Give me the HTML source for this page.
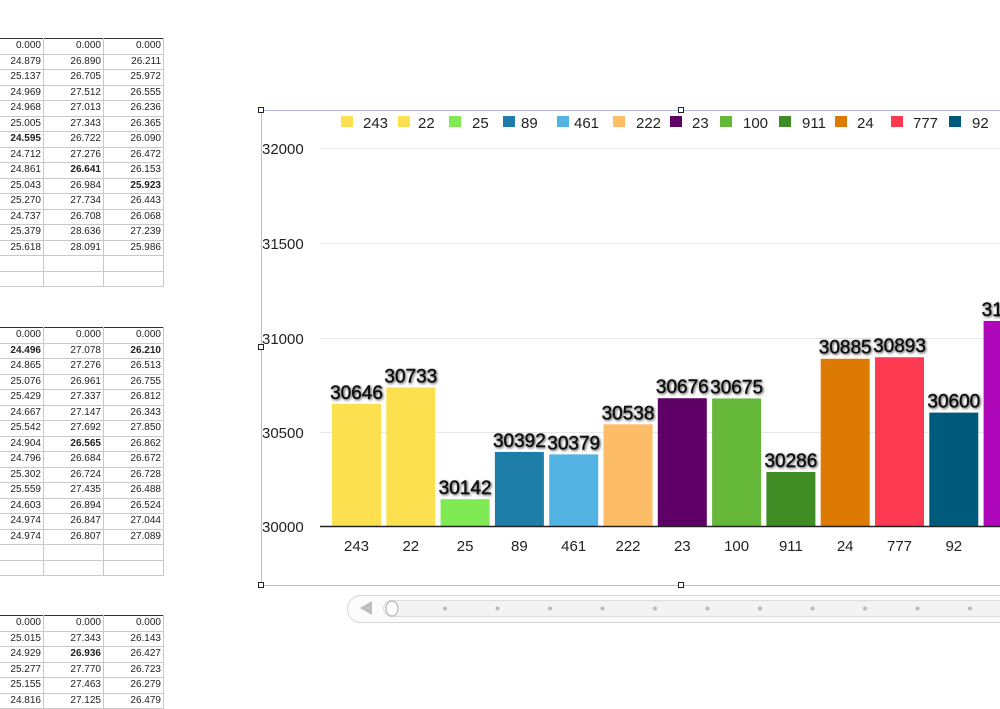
<!DOCTYPE html>
<html><head><meta charset="utf-8"><style>
body{margin:0;width:1000px;height:705px;overflow:hidden;background:#fff;font-family:"Liberation Sans",sans-serif;position:relative}
table{position:absolute;left:-2px;border-collapse:collapse;font-size:10px;color:#222;table-layout:fixed;width:165px}
td{height:15.5px;padding:0 2px;border:1px solid #c8c8c8;text-align:right;line-height:14px;overflow:hidden;box-sizing:border-box}
tr.t td{border-top:1px solid #333}
tr.b td{border-top:1px solid #333}
table{border-bottom:1px solid #333;border-right:1px solid #333}
</style></head><body>
<table style="top:38px"><colgroup><col style="width:45px"><col style="width:60px"><col style="width:60px"></colgroup>
<tr class="t"><td>0.000</td><td>0.000</td><td>0.000</td></tr>
<tr><td>24.879</td><td>26.890</td><td>26.211</td></tr>
<tr><td>25.137</td><td>26.705</td><td>25.972</td></tr>
<tr><td>24.969</td><td>27.512</td><td>26.555</td></tr>
<tr><td>24.968</td><td>27.013</td><td>26.236</td></tr>
<tr><td>25.005</td><td>27.343</td><td>26.365</td></tr>
<tr><td><b>24.595</b></td><td>26.722</td><td>26.090</td></tr>
<tr><td>24.712</td><td>27.276</td><td>26.472</td></tr>
<tr><td>24.861</td><td><b>26.641</b></td><td>26.153</td></tr>
<tr><td>25.043</td><td>26.984</td><td><b>25.923</b></td></tr>
<tr><td>25.270</td><td>27.734</td><td>26.443</td></tr>
<tr><td>24.737</td><td>26.708</td><td>26.068</td></tr>
<tr><td>25.379</td><td>28.636</td><td>27.239</td></tr>
<tr><td>25.618</td><td>28.091</td><td>25.986</td></tr>
<tr class="b"><td></td><td></td><td></td></tr>
<tr><td></td><td></td><td></td></tr>
</table>
<table style="top:327px"><colgroup><col style="width:45px"><col style="width:60px"><col style="width:60px"></colgroup>
<tr class="t"><td>0.000</td><td>0.000</td><td>0.000</td></tr>
<tr><td><b>24.496</b></td><td>27.078</td><td><b>26.210</b></td></tr>
<tr><td>24.865</td><td>27.276</td><td>26.513</td></tr>
<tr><td>25.076</td><td>26.961</td><td>26.755</td></tr>
<tr><td>25.429</td><td>27.337</td><td>26.812</td></tr>
<tr><td>24.667</td><td>27.147</td><td>26.343</td></tr>
<tr><td>25.542</td><td>27.692</td><td>27.850</td></tr>
<tr><td>24.904</td><td><b>26.565</b></td><td>26.862</td></tr>
<tr><td>24.796</td><td>26.684</td><td>26.672</td></tr>
<tr><td>25.302</td><td>26.724</td><td>26.728</td></tr>
<tr><td>25.559</td><td>27.435</td><td>26.488</td></tr>
<tr><td>24.603</td><td>26.894</td><td>26.524</td></tr>
<tr><td>24.974</td><td>26.847</td><td>27.044</td></tr>
<tr><td>24.974</td><td>26.807</td><td>27.089</td></tr>
<tr class="b"><td></td><td></td><td></td></tr>
<tr><td></td><td></td><td></td></tr>
</table>
<table style="top:615px"><colgroup><col style="width:45px"><col style="width:60px"><col style="width:60px"></colgroup>
<tr class="t"><td>0.000</td><td>0.000</td><td>0.000</td></tr>
<tr><td>25.015</td><td>27.343</td><td>26.143</td></tr>
<tr><td>24.929</td><td><b>26.936</b></td><td>26.427</td></tr>
<tr><td>25.277</td><td>27.770</td><td>26.723</td></tr>
<tr><td>25.155</td><td>27.463</td><td>26.279</td></tr>
<tr><td>24.816</td><td>27.125</td><td>26.479</td></tr>
</table>

<svg style="position:absolute;left:0;top:0" width="1000" height="705">
<defs><filter id="s" x="-20%" y="-40%" width="140%" height="180%"><feDropShadow dx="1" dy="1" stdDeviation="1.2" flood-color="#000" flood-opacity="0.7"/></filter></defs>
<rect x="261.5" y="110.5" width="800" height="475" fill="none" stroke="#b4bcf0"/>
<g stroke="#e6e6e6"><line x1="320" x2="1000" y1="148.5" y2="148.5"/><line x1="320" x2="1000" y1="243.5" y2="243.5"/><line x1="320" x2="1000" y1="338.5" y2="338.5"/><line x1="320" x2="1000" y1="432.5" y2="432.5"/></g>
<g font-size="15" fill="#222"><text x="262" y="154">32000</text><text x="262" y="249">31500</text><text x="262" y="344">31000</text><text x="262" y="438">30500</text><text x="262" y="532">30000</text></g>
<g id="bars"></g>
<line x1="320" x2="1000" y1="526.5" y2="526.5" stroke="#222" stroke-width="1.5"/>
<g font-size="15" fill="#222" text-anchor="middle" id="xl"></g>
<g font-size="19" fill="#111" stroke="#111" stroke-width="0.4" text-anchor="middle" filter="url(#s)" id="vl"></g>
<g font-size="15" fill="#222" id="lg"></g>
<g fill="#fff" stroke="#222"><rect x="258.5" y="107.5" width="5" height="5"/><rect x="678.5" y="107.5" width="5" height="5"/><rect x="258.5" y="344.5" width="5" height="5"/><rect x="258.5" y="582.5" width="5" height="5"/><rect x="678.5" y="582.5" width="5" height="5"/></g>
<rect x="347.5" y="595.5" width="700" height="27" rx="13" fill="#fbfbfb" stroke="#d4d4d4"/>
<rect x="383.5" y="600.5" width="660" height="16" rx="8" fill="#f3f3f3" stroke="#dcdcdc"/>
<polygon points="360,608 372,601 372,615" fill="#bdbdbd"/>
<ellipse cx="392" cy="608.5" rx="6" ry="7.5" fill="#fff" stroke="#aaa"/>
<g fill="#bbb" id="dots"></g>
</svg>
<script>
var d=[["243",30646,"#fde050"],["22",30733,"#fde050"],["25",30142,"#80ea54"],["89",30392,"#1e7ea8"],["461",30379,"#53b3e3"],["222",30538,"#fdbd67"],["23",30676,"#5e0066"],["100",30675,"#65b83a"],["911",30286,"#408c24"],["24",30885,"#dd7a03"],["777",30893,"#fe3a52"],["92",30600,"#005a7c"],["",31085,"#ae07ba"]];
var NS="http://www.w3.org/2000/svg";
function el(p,t,a,txt){var e=document.createElementNS(NS,t);for(var k in a)e.setAttribute(k,a[k]);if(txt!=null)e.textContent=txt;document.getElementById(p).appendChild(e);}
var lx=[341,398,449,503,557,613,670,720,779,835,891,949];
var tx=[363,418,472,521,574,636,692,743,802,857,913,972];
d.forEach(function(v,i){var x=332+i*54.3,y=526-(v[1]-30000)*0.189;
el("bars","rect",{x:x,y:y,width:49,height:526-y,fill:v[2]});
if(v[0])el("xl","text",{x:x+24.5,y:551},v[0]);
el("vl","text",{x:x+24.5,y:y-5},i==12?"31085":String(v[1]));
if(i<12){el("lg","rect",{x:lx[i],y:116,width:12,height:11,fill:v[2]});el("lg","text",{x:tx[i],y:128},v[0]);}
});
for(var i=0;i<11;i++)el("dots","circle",{cx:445+i*52.5,cy:608.5,r:2});
</script>
</body></html>
